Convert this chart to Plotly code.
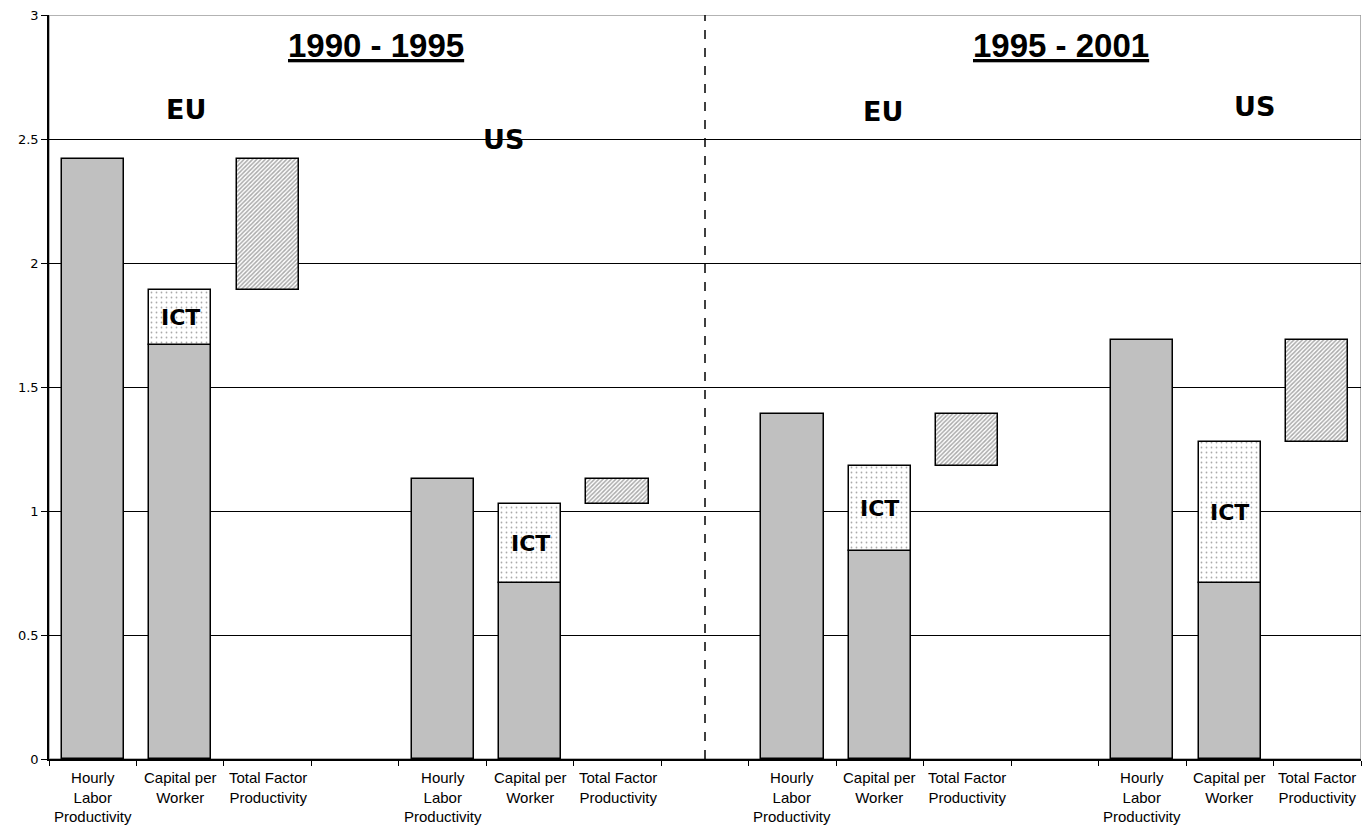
import plotly.graph_objects as go

# Growth decomposition: labour productivity = capital deepening + TFP
periods = ["1990 - 1995", "1995 - 2001"]
regions = ["EU", "US", "EU", "US"]
categories = ["Hourly<br>Labor<br>Productivity", "Capital per<br>Worker", "Total Factor<br>Productivity"]

hourly_labor = [2.42, 1.13, 1.39, 1.69]       # total bar height
capital_total = [1.89, 1.03, 1.18, 1.28]      # capital per worker (incl. ICT)
capital_non_ict = [1.67, 0.71, 0.84, 0.71]    # capital per worker excluding ICT

# slot layout: 3 bars + 1 empty slot per region block, 15 slots total
group_start = [0, 4, 8, 12]
bar_w = 0.71

x_hourly = [g + 0.5 for g in group_start]
x_capital = [g + 1.5 for g in group_start]
x_tfp = [g + 2.5 for g in group_start]

ict_part = [t - b for t, b in zip(capital_total, capital_non_ict)]
tfp_part = [h - c for h, c in zip(hourly_labor, capital_total)]

outline = dict(color="black", width=1.5)
fig = go.Figure()

fig.add_trace(go.Bar(
    x=x_hourly + x_capital, y=hourly_labor + capital_non_ict, width=bar_w,
    marker=dict(color="#c0c0c0", line=outline), showlegend=False, hoverinfo="y"))

fig.add_trace(go.Bar(
    x=x_capital, y=ict_part, base=capital_non_ict, width=bar_w,
    marker=dict(color="white", line=outline,
                pattern=dict(shape=".", size=5, solidity=0.1, fgcolor="#555555", bgcolor="white")),
    showlegend=False, hoverinfo="y"))

fig.add_trace(go.Bar(
    x=x_tfp, y=tfp_part, base=capital_total, width=bar_w,
    marker=dict(color="white", line=outline,
                pattern=dict(shape="/", size=3, solidity=0.5, fgcolor="#555555", bgcolor="white")),
    showlegend=False, hoverinfo="y"))

annotations = []
# ICT labels inside the ICT segments
for x, b, t in zip(x_capital, capital_non_ict, capital_total):
    annotations.append(dict(x=x, y=(b + t) / 2, text="<b>ICT</b>", showarrow=False,
                            font=dict(family="DejaVu Sans", size=22, color="black")))

# period headers
period_x = [3.74, 11.57]
for p, x in zip(periods, period_x):
    annotations.append(dict(x=x, y=2.878, text=f"<b><u>{p}</u></b>",
                            showarrow=False, font=dict(family="Liberation Sans", size=33, color="black")))

# region labels
region_pos = [(1.57, 2.62), (5.2, 2.5), (9.53, 2.61), (13.78, 2.63)]
for r, (x, y) in zip(regions, region_pos):
    annotations.append(dict(x=x, y=y, text=f"<b>{r}</b>", showarrow=False,
                            font=dict(family="DejaVu Sans", size=27, color="black")))

# category labels under each bar
for g in group_start:
    for k, c in enumerate(categories):
        annotations.append(dict(x=g + 0.5 + k, y=0, yref="y", text=c, showarrow=False,
                                yanchor="top", yshift=-8,
                                font=dict(family="Liberation Sans", size=15, color="black")))

fig.update_layout(
    width=1364, height=832,
    margin=dict(l=49, r=3, t=15, b=73),
    plot_bgcolor="white", paper_bgcolor="white",
    barmode="overlay", bargap=0,
    annotations=annotations,
    shapes=[
        dict(type="rect", xref="x", yref="y", x0=0, x1=15, y0=0, y1=3,
             line=dict(color="#9a9a9a", width=1.5), layer="below"),
        dict(type="line", xref="x", yref="y", x0=7.5, x1=7.5, y0=0, y1=3,
             line=dict(color="black", width=1.5, dash="dash")),
    ],
    xaxis=dict(range=[0, 15], showgrid=False, zeroline=False,
               tickvals=[], showline=True, linecolor="black", linewidth=1.5,
               minor=dict(tickmode="array", tickvals=list(range(16)), ticks="outside",
                          ticklen=5, tickcolor="black", tickwidth=1, showgrid=False)),
    yaxis=dict(range=[0, 3], dtick=0.5, tick0=0, showgrid=True, gridcolor="black", gridwidth=1,
               zeroline=False, showline=True, linecolor="black", linewidth=1.5,
               ticks="outside", ticklen=6, tickcolor="black",
               tickfont=dict(family="DejaVu Sans", size=13, color="black")),
)

fig.write_html("out.html")
